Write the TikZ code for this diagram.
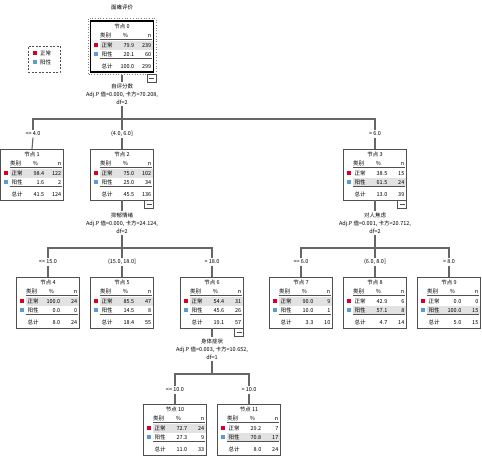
\documentclass[tikz,border=0pt]{standalone}
\usepackage{fontspec}
\setmainfont{Noto Sans CJK SC}
\usetikzlibrary{calc}
\definecolor{nred}{HTML}{DC0020}
\definecolor{nblue}{HTML}{5B9BD5}
\definecolor{boxgray}{HTML}{505050}
\definecolor{hlgray}{HTML}{E2E2E2}
\definecolor{conngray}{HTML}{666666}
\newcommand\tfont{\fontsize{5.5}{8}\selectfont}
\def\tbdata#1/#2/#3/#4/#5/#6\relax{\def\tbpa{#1}\def\tbna{#2}\def\tbpb{#3}\def\tbnb{#4}\def\tbpt{#5}\def\tbnt{#6}}
\newcommand\treebox[6]{%
  \tbdata#6\relax
  \node[tbox] (#1) at (#2,#3) {};
  \begin{scope}[shift={(#1.north west)}]
    \ifnum#5=1\relax
      \fill[hlgray] (9,19.5) rectangle (62,28.5);
    \else
      \fill[hlgray] (9,28.5) rectangle (62,37);
    \fi
    \node[tt] at (31.5,5.5) {节点 #4};
    \node[tt] at (15,14) {类别};
    \node[tt] at (35,14) {\%};
    \node[tt,anchor=mid east] at (61,14) {n};
    \draw[boxgray,line width=0.5] (9,18) -- (61,18);
    \fill[nred] (3,22) rectangle (7,26);
    \node[tt,anchor=mid west] at (11,24) {正常};
    \node[tt,anchor=mid east] at (44,24) {\tbpa};
    \node[tt,anchor=mid east] at (61,24) {\tbna};
    \fill[nblue] (3,31) rectangle (7,35);
    \node[tt,anchor=mid west] at (11,33) {阳性};
    \node[tt,anchor=mid east] at (44,33) {\tbpb};
    \node[tt,anchor=mid east] at (61,33) {\tbnb};
    \draw[boxgray,line width=0.8] (9,37.5) -- (61,37.5);
    \node[tt,anchor=mid west] at (11,45) {总计};
    \node[tt,anchor=mid east] at (44,45) {\tbpt};
    \node[tt,anchor=mid east] at (61,45) {\tbnt};
  \end{scope}}
\newcommand\minusbox[2]{%
  \draw[boxgray,fill=white,line width=0.6] ($(#1.south east)+(-9+#2,#2)$) rectangle ($(#1.south east)+(#2,8+#2)$);
  \draw[boxgray,line width=0.6] ($(#1.south east)+(-7+#2,4+#2)$) -- ($(#1.south east)+(-2+#2,4+#2)$);}
\begin{document}
\begin{tikzpicture}[x=1pt,y=-1pt,
  tbox/.style={draw=boxgray,line width=0.9,fill=white,minimum width=63,minimum height=51,inner sep=0,outer sep=0,anchor=north},
  tt/.style={inner sep=0,font=\tfont,text=black},
  conn/.style={draw=conngray,line width=1.1},
  elab/.style={inner sep=1.5,font=\tfont},
  slab/.style={inner sep=1.5,font=\tfont,align=center}]
\useasboundingbox (0,0) rectangle (482,456);
% title and legend
\node[tt] (title) at (122,7) {面瘫评价};
\node[draw=boxgray,dash pattern=on 2pt off 1.5pt,line width=0.7,minimum width=32,minimum height=26,inner sep=0] (leg) at (44,59) {};
\fill[nred] (33,51) rectangle (37,55);
\node[tt,anchor=mid west] (legA) at (40,53) {正常};
\fill[nblue] (33,60) rectangle (37,64);
\node[tt,anchor=mid west] (legB) at (40,62) {阳性};
% split labels
\node[slab] (s0) at (122,94) {自评分数\\Adj.P 值=0.000, 卡方=70.208,\\df=2};
\node[slab] (s2) at (122,223) {抑郁情绪\\Adj.P 值=0.000, 卡方=24.124,\\df=2};
\node[slab] (s3) at (375,223) {对人焦虑\\Adj.P 值=0.001, 卡方=20.712,\\df=2};
\node[slab] (s6) at (212,349) {身体症状\\Adj.P 值=0.003, 卡方=10.652,\\df=1};
% edge labels
\node[elab] (e1) at (33,134) {<= 4.0};
\node[elab] (e2) at (122,134) {(4.0, 6.0]};
\node[elab] (e3) at (375,134) {> 6.0};
\node[elab] (e4) at (48,262) {<= 15.0};
\node[elab] (e5) at (122,262) {(15.0, 18.0]};
\node[elab] (e6) at (212,262) {> 18.0};
\node[elab] (e7) at (301,262) {<= 6.0};
\node[elab] (e8) at (375,262) {(6.0, 8.0]};
\node[elab] (e9) at (449,262) {> 8.0};
\node[elab] (e10) at (175,390) {<= 10.0};
\node[elab] (e11) at (249,390) {> 10.0};
\coordinate (b0) at (122,119);
\coordinate (b2) at (122,248);
\coordinate (b3) at (375,248);
\coordinate (b6) at (212,374);
% tree boxes
\treebox{n0}{122}{21}{0}{1}{79.9/239/20.1/60/100.0/299}
\treebox{n1}{32}{149}{1}{1}{98.4/122/1.6/2/41.5/124}
\treebox{n2}{122}{149}{2}{1}{75.0/102/25.0/34/45.5/136}
\treebox{n3}{375}{149}{3}{2}{38.5/15/61.5/24/13.0/39}
\treebox{n4}{48}{277}{4}{1}{100.0/24/0.0/0/8.0/24}
\treebox{n5}{122}{277}{5}{1}{85.5/47/14.5/8/18.4/55}
\treebox{n6}{212}{277}{6}{1}{54.4/31/45.6/26/19.1/57}
\treebox{n7}{301}{277}{7}{1}{90.0/9/10.0/1/3.3/10}
\treebox{n8}{375}{277}{8}{2}{42.9/6/57.1/8/4.7/14}
\treebox{n9}{449}{277}{9}{2}{0.0/0/100.0/15/5.0/15}
\treebox{n10}{175}{404}{10}{1}{72.7/24/27.3/9/11.0/33}
\treebox{n11}{249}{404}{11}{2}{29.2/7/70.8/17/8.0/24}
% selected root frame
\draw[black,line width=1.6] (n0.north west) rectangle (n0.south east);
\draw[gray,dotted,line width=0.7] ($(n0.north west)+(-2.5,-2.5)$) rectangle ($(n0.south east)+(2.5,2.5)$);
\minusbox{n0}{2.5}
\minusbox{n2}{0}
\minusbox{n3}{0}
\minusbox{n6}{0}
% connectors
\draw[conn] ($(n0.south)+(0,2.5)$) -- (s0.north);
\draw[conn] (s0.south) -- (b0);
\draw[conn] (b0) -| (e1.north);
\draw[conn] (b0) -| (e2.north);
\draw[conn] (b0) -| (e3.north);
\draw[conn] (e1.south) -- (n1.north);
\draw[conn] (e2.south) -- (n2.north);
\draw[conn] (e3.south) -- (n3.north);
\draw[conn] (n2.south) -- (s2.north);
\draw[conn] (s2.south) -- (b2);
\draw[conn] (b2) -| (e4.north);
\draw[conn] (b2) -| (e5.north);
\draw[conn] (b2) -| (e6.north);
\draw[conn] (e4.south) -- (n4.north);
\draw[conn] (e5.south) -- (n5.north);
\draw[conn] (e6.south) -- (n6.north);
\draw[conn] (n3.south) -- (s3.north);
\draw[conn] (s3.south) -- (b3);
\draw[conn] (b3) -| (e7.north);
\draw[conn] (b3) -| (e8.north);
\draw[conn] (b3) -| (e9.north);
\draw[conn] (e7.south) -- (n7.north);
\draw[conn] (e8.south) -- (n8.north);
\draw[conn] (e9.south) -- (n9.north);
\draw[conn] (n6.south) -- (s6.north);
\draw[conn] (s6.south) -- (b6);
\draw[conn] (b6) -| (e10.north);
\draw[conn] (b6) -| (e11.north);
\draw[conn] (e10.south) -- (n10.north);
\draw[conn] (e11.south) -- (n11.north);
\end{tikzpicture}
\end{document}
